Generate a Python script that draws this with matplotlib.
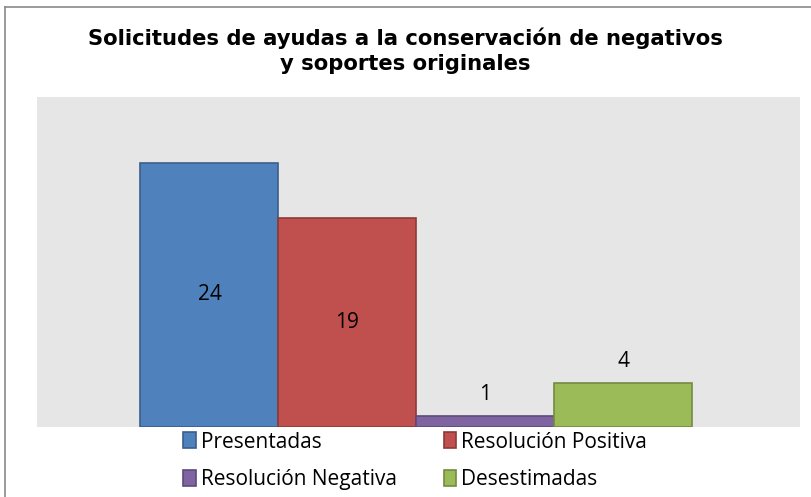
import matplotlib.pyplot as plt
from matplotlib.patches import Patch
from matplotlib.lines import Line2D

series = ["Presentadas", "Resolución Positiva", "Resolución Negativa", "Desestimadas"]
values = [24, 19, 1, 4]
colors = ["#4F81BD", "#C0504D", "#8064A2", "#9BBB59"]
edges = ["#3A5F8C", "#8E3A38", "#5E4A7A", "#738C40"]
title = "Solicitudes de ayudas a la conservación de negativos\ny soportes originales"

fig = plt.figure(figsize=(8.11, 4.97), dpi=100)
W, H = 811, 497
ax = fig.add_axes([37 / W, 1 - 427 / H, (800 - 37) / W, (427 - 97) / H])
ax.set_facecolor("#E6E6E6")

xs = list(range(len(values)))
ax.bar(xs, values, width=1.0, color=colors, edgecolor=edges, linewidth=1.2, zorder=2)
for x, v in zip(xs, values):
    if v > 5:
        ax.text(x, v / 2, str(v), ha="center", va="center", fontsize=15, family="Open Sans")
    else:
        ax.text(x, v + 1.0, str(v), ha="center", va="bottom", fontsize=15, family="Open Sans")

ax.set_xlim(-1.25, 4.28)
ax.set_ylim(0, 30)
ax.set_xticks([])
ax.set_yticks([])
for s in ax.spines.values():
    s.set_visible(False)

fig.text(0.5, 1 - 50.5 / H, title, ha="center", va="center", fontsize=15.2,
         fontweight="bold", family="DejaVu Sans", linespacing=1.3)

# outer chart frame (cut at right and bottom as in the original)
fig.add_artist(Line2D([5 / W, 5 / W], [0, 1 - 7 / H], color="#8A8A8A", lw=1.2))
fig.add_artist(Line2D([5 / W, 1], [1 - 7 / H, 1 - 7 / H], color="#8A8A8A", lw=1.2))

# legend is filled row by row in the original
order = [0, 2, 1, 3]
handles = [Patch(facecolor=colors[i], edgecolor=edges[i], linewidth=1.2) for i in order]
labels = [series[i] for i in order]
fig.legend(handles, labels, ncol=2, loc="center", bbox_to_anchor=(0.512, 1 - 461 / H),
           frameon=False, prop={"family": "Open Sans", "size": 15},
           handlelength=0.6, handleheight=0.8, handletextpad=0.25, columnspacing=2.24,
           labelspacing=0.8, borderpad=0)

fig.savefig("out.png", dpi=100)
